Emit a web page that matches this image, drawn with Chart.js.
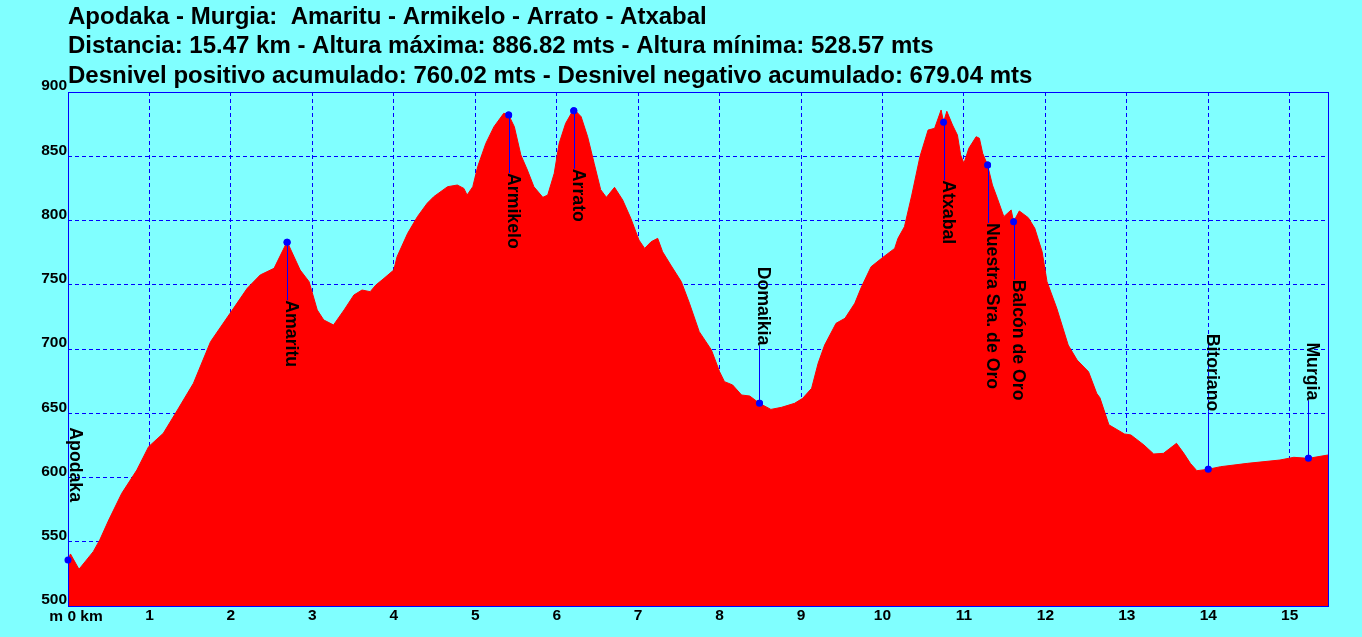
<!DOCTYPE html>
<html lang="es">
<head>
<meta charset="UTF-8">
<title>Apodaka - Murgia</title>
<script src="https://cdn.jsdelivr.net/npm/chart.js"></script>
<style>
  html, body { margin: 0; padding: 0; background: #80ffff; }
  #wrap { width: 1362px; height: 637px; }
</style>
</head>
<body>
<div id="wrap"><canvas id="perfil" width="1362" height="637"></canvas></div>
<script>
const titulo = [
  'Apodaka - Murgia:  Amaritu - Armikelo - Arrato - Atxabal',
  'Distancia: 15.47 km - Altura máxima: 886.82 mts - Altura mínima: 528.57 mts',
  'Desnivel positivo acumulado: 760.02 mts - Desnivel negativo acumulado: 679.04 mts'
];

// perfil: distancia (km) y altura (m)
const distKm = [
  0.00, 0.03, 0.135, 0.31, 0.39, 0.50, 0.66, 0.845, 0.99, 1.17, 1.32, 1.54, 1.75, 1.99,
  2.20, 2.36, 2.53, 2.69, 2.85, 2.96, 3.06, 3.14, 3.26, 3.39, 3.51, 3.61, 3.71, 3.78,
  3.88, 4.00, 4.04, 4.17, 4.29, 4.41, 4.49, 4.66, 4.78, 4.86, 4.90, 4.97, 5.03, 5.13,
  5.23, 5.35, 5.41, 5.48, 5.56, 5.64, 5.72, 5.83, 5.89, 5.97, 6.03, 6.11, 6.21, 6.30,
  6.38, 6.46, 6.54, 6.61, 6.71, 6.81, 6.91, 7.01, 7.08, 7.16, 7.24, 7.30, 7.40, 7.53,
  7.63, 7.75, 7.90, 8.00, 8.06, 8.16, 8.27, 8.37, 8.49, 8.63, 8.76, 8.92, 9.02, 9.13,
  9.21, 9.29, 9.43, 9.54, 9.66, 9.74, 9.86, 9.99, 10.15, 10.19, 10.27, 10.36, 10.46,
  10.56, 10.64, 10.72, 10.75, 10.79, 10.86, 10.92, 10.96, 11.00, 11.06, 11.15, 11.19,
  11.23, 11.29, 11.35, 11.41, 11.49, 11.58, 11.61, 11.68, 11.79, 11.87, 11.96, 12.02,
  12.14, 12.28, 12.39, 12.53, 12.63, 12.67, 12.78, 12.97, 13.05, 13.21, 13.33, 13.45,
  13.53, 13.61, 13.70, 13.78, 13.86, 14.00, 14.15, 14.48, 14.88, 15.05, 15.23, 15.47
];
const altM = [
  535.8, 540.5, 528.6, 542.3, 551.4, 566.9, 587.7, 605.8, 624.0, 634.4, 650.0, 673.3, 705.7, 727.8,
  747.2, 757.6, 762.8, 783.5, 761.5, 752.4, 730.4, 722.6, 718.7, 730.4, 742.0, 745.9, 744.6, 749.8,
  755.0, 761.5, 771.8, 790.0, 803.0, 813.4, 818.5, 826.3, 827.6, 825.0, 819.8, 826.3, 841.9, 860.0,
  873.0, 883.4, 882.1, 873.0, 851.0, 839.3, 826.3, 818.0, 819.8, 836.7, 860.0, 875.6, 886.8, 880.8,
  865.2, 844.5, 824.0, 818.0, 825.8, 816.0, 801.7, 784.8, 778.3, 783.5, 786.1, 775.7, 765.4, 752.4,
  735.6, 713.5, 699.2, 682.3, 674.6, 672.0, 664.2, 663.4, 657.7, 653.0, 654.6, 657.7, 661.6, 669.4,
  688.9, 703.1, 720.0, 723.9, 735.6, 748.0, 764.0, 770.6, 778.3, 786.1, 795.2, 819.8, 849.7,
  870.4, 871.7, 886.0, 876.4, 885.0, 874.3, 866.5, 851.0, 844.5, 856.2, 865.2, 864.0,
  852.3, 843.2, 827.6, 817.3, 803.0, 808.2, 799.1, 807.4, 802.2, 793.9, 775.7, 752.4,
  731.7, 703.1, 691.4, 682.3, 665.5, 662.0, 641.0, 633.9, 633.1, 625.3, 618.3, 618.8,
  622.7, 626.6, 618.8, 611.0, 605.3, 606.4, 608.4, 611.0, 613.6, 615.7, 614.9, 617.5
];

// puntos de paso
const wpNombre = ['Apodaka', 'Amaritu', 'Armikelo', 'Arrato', 'Domaikia', 'Atxabal',
  'Nuestra Sra. de Oro', 'Balcón de Oro', 'Bitoriano', 'Murgia'];
const wpKm  = [0.00, 2.69, 5.41, 6.21, 8.49, 10.75, 11.29, 11.61, 14.00, 15.23];
const wpAlt = [535.8, 783.0, 882.1, 885.4, 657.7, 876.4, 843.2, 799.1, 606.4, 614.9];

const FONT = '"Liberation Sans", Arial, sans-serif';
const AZUL = '#0000ff';

const perfil = distKm.map((d, i) => ({x: d, y: altM[i]}));
const puntos = wpKm.map((d, i) => ({x: d, y: wpAlt[i]}));

const decorado = {
  id: 'decorado',
  beforeDraw(chart) {
    const ctx = chart.ctx;
    ctx.save();
    ctx.fillStyle = '#80ffff';
    ctx.fillRect(0, 0, chart.width, chart.height);
    ctx.restore();
  },
  afterDraw(chart) {
    const {ctx, chartArea: a, scales} = chart;
    ctx.save();
    ctx.fillStyle = '#000';
    ctx.textAlign = 'left';
    ctx.textBaseline = 'alphabetic';

    // titulos
    ctx.font = 'bold 24px ' + FONT;
    [24, 53, 83].forEach((y, i) => ctx.fillText(titulo[i], a.left, y));

    // "m 0 km" en la esquina
    ctx.font = 'bold 15.5px ' + FONT;
    ctx.fillText('m 0 km', scales.x.getPixelForValue(0) - 18.7, 621);

    // marco
    const l = Math.round(a.left) + 0.5, r = Math.round(a.right) + 0.5;
    const t = Math.round(a.top) + 0.5, b = Math.round(a.bottom) + 0.5;
    ctx.strokeStyle = AZUL;
    ctx.lineWidth = 1;
    ctx.strokeRect(l, t, r - l, b - t);

    // etiquetas de los puntos de paso
    const meta = chart.getDatasetMeta(1);
    meta.data.forEach((pt, i) => {
      ctx.save();
      ctx.font = 'bold 17.7px ' + FONT;
      ctx.fillStyle = '#000';
      ctx.strokeStyle = AZUL;
      ctx.lineWidth = 1;
      ctx.setLineDash([]);
      const w = ctx.measureText(wpNombre[i]).width;
      const abajo = wpAlt[i] > 700;
      const x = Math.round(pt.x) + 0.5;
      const yFin = abajo ? pt.y + 58 : pt.y - 58;
      ctx.beginPath();
      ctx.moveTo(x, pt.y);
      ctx.lineTo(x, yFin);
      ctx.stroke();
      const tx = Math.max(pt.x - 1, a.left + 2);
      const ty = abajo ? yFin : yFin - w;
      ctx.translate(tx, ty);
      ctx.rotate(Math.PI / 2);
      ctx.fillText(wpNombre[i], 0, 0);
      ctx.restore();
      pt.draw(ctx);
    });
    ctx.restore();
  }
};

new Chart(document.getElementById('perfil'), {
  type: 'line',
  data: {
    datasets: [{
      data: perfil,
      fill: 'start',
      backgroundColor: '#ff0000',
      borderColor: '#ff0000',
      borderWidth: 1,
      pointRadius: 0,
      tension: 0
    }, {
      data: puntos,
      showLine: false,
      pointRadius: 3.5,
      pointBackgroundColor: AZUL,
      pointBorderColor: AZUL,
      pointBorderWidth: 0
    }]
  },
  options: {
    responsive: false,
    animation: false,
    layout: { padding: { top: 92, right: 34, bottom: 0, left: 0 } },
    plugins: { legend: { display: false }, tooltip: { enabled: false } },
    scales: {
      x: {
        type: 'linear',
        min: 0,
        max: 15.47,
        z: 1,
        afterFit: s => { s.height = 31; },
        grid: { color: AZUL, lineWidth: 1, drawTicks: false },
        border: { display: false, dash: [4, 3] },
        ticks: {
          stepSize: 1,
          includeBounds: false,
          autoSkip: false,
          maxRotation: 0,
          padding: 0,
          color: '#000',
          font: { family: FONT, size: 15.5, weight: 'bold' },
          callback: v => v === 0 ? '' : v
        }
      },
      y: {
        min: 500,
        max: 900,
        z: 1,
        afterFit: s => { s.width = 68; },
        grid: { color: AZUL, lineWidth: 1, drawTicks: false },
        border: { display: false, dash: [4, 3] },
        ticks: {
          stepSize: 50,
          padding: 1,
          labelOffset: -6,
          color: '#000',
          font: { family: FONT, size: 15.5, weight: 'bold' }
        }
      }
    }
  },
  plugins: [decorado]
});
</script>
</body>
</html>
